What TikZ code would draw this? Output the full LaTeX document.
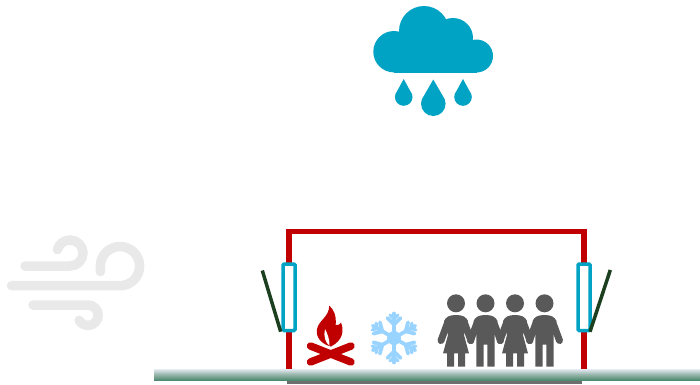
\documentclass[tikz,border=0pt]{standalone}
\definecolor{rainblue}{HTML}{00A3C4}
\definecolor{windgray}{HTML}{E9E9E9}
\definecolor{wallred}{HTML}{C00000}
\definecolor{flapgreen}{HTML}{1C3F20}
\definecolor{iceblue}{HTML}{99D3FF}
\definecolor{persongray}{HTML}{595959}
\definecolor{slabgray}{HTML}{6E6E6E}
\definecolor{groundtop}{HTML}{E4EBF3}
\definecolor{groundmid}{HTML}{9DB9AF}
\definecolor{groundbot}{HTML}{4F8A72}
\newcommand{\rdrop}[4]{% cx, tip y, centre y, r
  \fill[rainblue] (#1,#2) -- ({#1-0.72*#4},{#3-0.72*#4}) .. controls ({#1-0.9*#4},{#3-0.5*#4}) and ({#1-#4},{#3-0.25*#4}) .. ({#1-#4},#3)
    arc[start angle=180,end angle=360,radius=#4 pt]
    .. controls ({#1+#4},{#3-0.25*#4}) and ({#1+0.9*#4},{#3-0.5*#4}) .. ({#1+0.72*#4},{#3-0.72*#4}) -- (#1,#2) -- cycle;}
\newcommand{\personbase}[1]{%
  \fill[persongray] (#1,303.3) circle (9pt);
  \draw[persongray,line width=7pt,line cap=round] ({#1-8.5},323) -- ({#1-15},340.5);
  \draw[persongray,line width=7pt,line cap=round] ({#1+8.5},323) -- ({#1+15},340.5);}
\newcommand{\woman}[1]{\personbase{#1}
  \fill[persongray] (#1,315) .. controls ({#1+7},315) and ({#1+10},317) .. ({#1+12},321)
    -- ({#1+8},335) -- ({#1+13},353.4) -- ({#1+9},353.4) -- ({#1+9},366.7) -- ({#1+2},366.7) -- ({#1+2},353.4)
    -- ({#1-2},353.4) -- ({#1-2},366.7) -- ({#1-9},366.7) -- ({#1-9},353.4) -- ({#1-13},353.4) -- ({#1-8},335) -- ({#1-12},321)
    .. controls ({#1-10},317) and ({#1-7},315) .. (#1,315) -- cycle;}
\newcommand{\man}[1]{\personbase{#1}
  \fill[persongray] (#1,315) .. controls ({#1+7},315) and ({#1+10},317) .. ({#1+12},321)
    -- ({#1+9.2},335) -- ({#1+9.2},366.7) -- ({#1+1.8},366.7) -- ({#1+1.8},344.5) -- ({#1-1.8},344.5) -- ({#1-1.8},366.7)
    -- ({#1-9.2},366.7) -- ({#1-9.2},335) -- ({#1-12},321)
    .. controls ({#1-10},317) and ({#1-7},315) .. (#1,315) -- cycle;}
\tikzset{
  windline/.style={draw=windgray,line width=9.5pt,line cap=round},
  vent/.style={draw=rainblue,line width=3.5pt,rounded corners=1.2pt,fill=white},
  flap/.style={draw=flapgreen,line width=3.5pt},
  flakeline/.style={draw=iceblue,line width=3.8pt,line cap=round},
  logline/.style={draw=wallred,line width=7.5pt,line cap=round}
}
\begin{document}
\begin{tikzpicture}[x=1pt,y=-1pt]
\useasboundingbox (0,0) rectangle (700,384);
% cloud
\fill[rainblue] (394,51.7) circle (20.7pt) (424,31) circle (25pt) (453,38) circle (20pt) (476.5,56) circle (16.5pt);
\fill[rainblue] (394,40) rectangle (476.5,72.5);
\rdrop{403.7}{79}{97}{8.8}
\rdrop{433.3}{79.5}{103.7}{12.3}
\rdrop{463}{79}{97}{8.8}
% wind
\draw[windline] (25,266) -- (70,266) arc[start angle=-90,end angle=165,radius=13pt];
\draw[windline] (11.5,285.7) -- (120,285.7) arc[start angle=-90,end angle=180,radius=19.6pt] -- ++(0,5.5);
\draw[windline] (33,305) -- (88,305) arc[start angle=90,end angle=-150,radius=10.2pt];
% wall
\fill[wallred] (286.2,369) rectangle (292,229);
\fill[wallred] (286.2,229) rectangle (587,233.6);
\fill[wallred] (581.2,229) rectangle (587,369);
% ground
\fill[slabgray] (287,380) rectangle (582,384);
\fill[top color=groundtop,bottom color=groundmid] (154,369) rectangle (700,374);
\fill[top color=groundmid,bottom color=groundbot] (154,374) rectangle (700,380);
% vents
\draw[vent] (283,264) rectangle (295,330.5);
\draw[vent] (578,264) rectangle (590,330.5);
\draw[flap] (262.3,270.5) -- (280.7,331.7);
\draw[flap] (610.3,270) -- (590,331.7);
% fire
\draw[logline] (310.5,346) -- (351,362);
\draw[logline] (310.5,362) -- (351,346);
\fill[wallred] (329.3,305.7) .. controls (333,309) and (336.5,314) .. (335.7,325)
  .. controls (338,325.5) and (340,324.5) .. (341,322.5)
  .. controls (344,330) and (343.5,340) .. (331,346.5)
  .. controls (321,344) and (315.5,337) .. (317,329)
  .. controls (319,320) and (329,317) .. (329.3,305.7) -- cycle;
\fill[white] (325,329) .. controls (327,333) and (329.5,338) .. (329.5,345.5)
  .. controls (326,344) and (323,336) .. (325,329) -- cycle;
% snowflake
\begin{scope}[shift={(394,338)}]
\foreach \a in {0,60,...,300}{
  \begin{scope}[rotate=\a]
    \draw[flakeline] (0,0) -- (0,-24.5);
    \draw[flakeline] (-6.5,-20) -- (0,-13.5) -- (6.5,-20);
    \draw[flakeline,line width=3pt] (-4,-23) -- (0,-19) -- (4,-23);
  \end{scope}
}
\fill[iceblue] (0,0) circle (7pt);
\end{scope}
% people
\woman{456}
\man{485.5}
\woman{515}
\man{544.5}
\end{tikzpicture}
\end{document}
